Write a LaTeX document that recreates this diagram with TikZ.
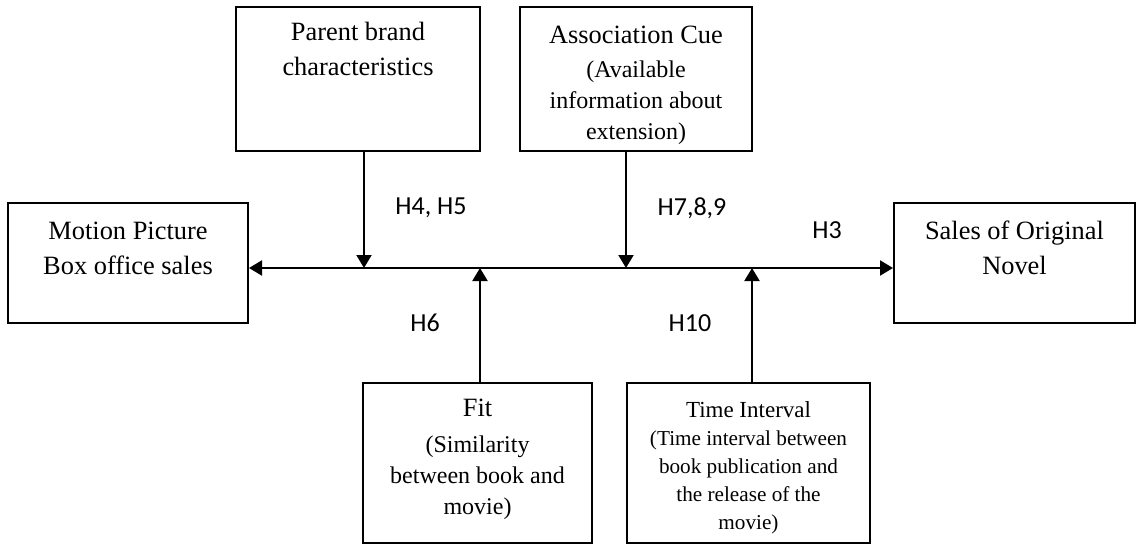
\documentclass[tikz,border=0pt]{standalone}
\usepackage{fontspec}
\setmainfont{Liberation Serif}
\newfontfamily\hypfont{Carlito}
\usetikzlibrary{arrows.meta,positioning}

\begin{document}
\begin{tikzpicture}[x=0.5pt,y=-0.5pt,
  box/.style={draw,line width=1pt,inner sep=0pt},
  txt/.style={align=center,inner sep=0pt,font=\fontsize{13.2}{17.5}\selectfont},
  subtxt/.style={align=center,inner sep=0pt,font=\fontsize{12}{15.5}\selectfont},
  tinytxt/.style={align=center,inner sep=0pt,font=\fontsize{10.6}{14}\selectfont},
  hyp/.style={font=\hypfont\fontsize{13}{15}\selectfont},
  arr/.style={line width=1pt,-{Triangle[length=6.5pt,width=7.5pt]}},
  biarr/.style={line width=1pt,{Triangle[length=6.5pt,width=7.5pt]}-{Triangle[length=6.5pt,width=7.5pt]}}]
\useasboundingbox (0,0) rectangle (1138,545);

% boxes
\node [box,minimum width=120pt,minimum height=60pt] at (128,263) (motion) {};
\node [box,minimum width=122pt,minimum height=72pt] at (358,79) (parent) {};
\node [box,minimum width=116pt,minimum height=72pt] at (636,79) (assoc) {};
\node [box,minimum width=120.5pt,minimum height=60pt] at (1014.5,263) (novel) {};
\node [box,minimum width=114.5pt,minimum height=80pt] at (477.5,463) (fit) {};
\node [box,minimum width=121.5pt,minimum height=80pt] at (748.5,463) (time) {};

% box texts
\node [txt,below=10pt of motion.north] (motiontxt) {Motion Picture\\Box office sales};
\node [txt,below=8pt of parent.north] (parenttxt) {Parent brand\\characteristics};
\node [subtxt,below=10pt of assoc.north] (assoctxt) {{\fontsize{13.2}{17.5}\selectfont Association Cue}\\[1.5pt](Available\\information about\\extension)};
\node [txt,below=9.5pt of novel.north] (noveltxt) {Sales of Original\\Novel};
\node [subtxt,below=8.5pt of fit.north] (fittxt) {{\fontsize{13.2}{17.5}\selectfont Fit}\\[2.5pt](Similarity\\between book and\\movie)};
\node [tinytxt,below=9.5pt of time.north] (timetxt) {{\fontsize{11.5}{14}\selectfont Time Interval}\\(Time interval between\\book publication and\\the release of the\\movie)};

% hypotheses
\node [hyp] at (431,208) (h45) {H4, H5};
\node [hyp] at (692,208) (h789) {H7,8,9};
\node [hyp] at (827,230) (h3) {H3};
\node [hyp] at (425,323) (h6) {H6};
\node [hyp] at (690,323) (h10) {H10};

% arrows
\coordinate (axis) at (560,268);
\coordinate (pa) at ([xshift=3pt]parent.south);
\coordinate (aa) at ([xshift=-5pt]assoc.south);
\coordinate (fa) at ([xshift=1.25pt]fit.north);
\coordinate (ta) at ([xshift=1.75pt]time.north);

\draw [biarr] (motion.east |- axis) -- (novel.west |- axis);
\draw [arr] (pa) -- (pa |- axis);
\draw [arr] (aa) -- (aa |- axis);
\draw [arr] (fa) -- (fa |- axis);
\draw [arr] (ta) -- (ta |- axis);

\end{tikzpicture}
\end{document}
